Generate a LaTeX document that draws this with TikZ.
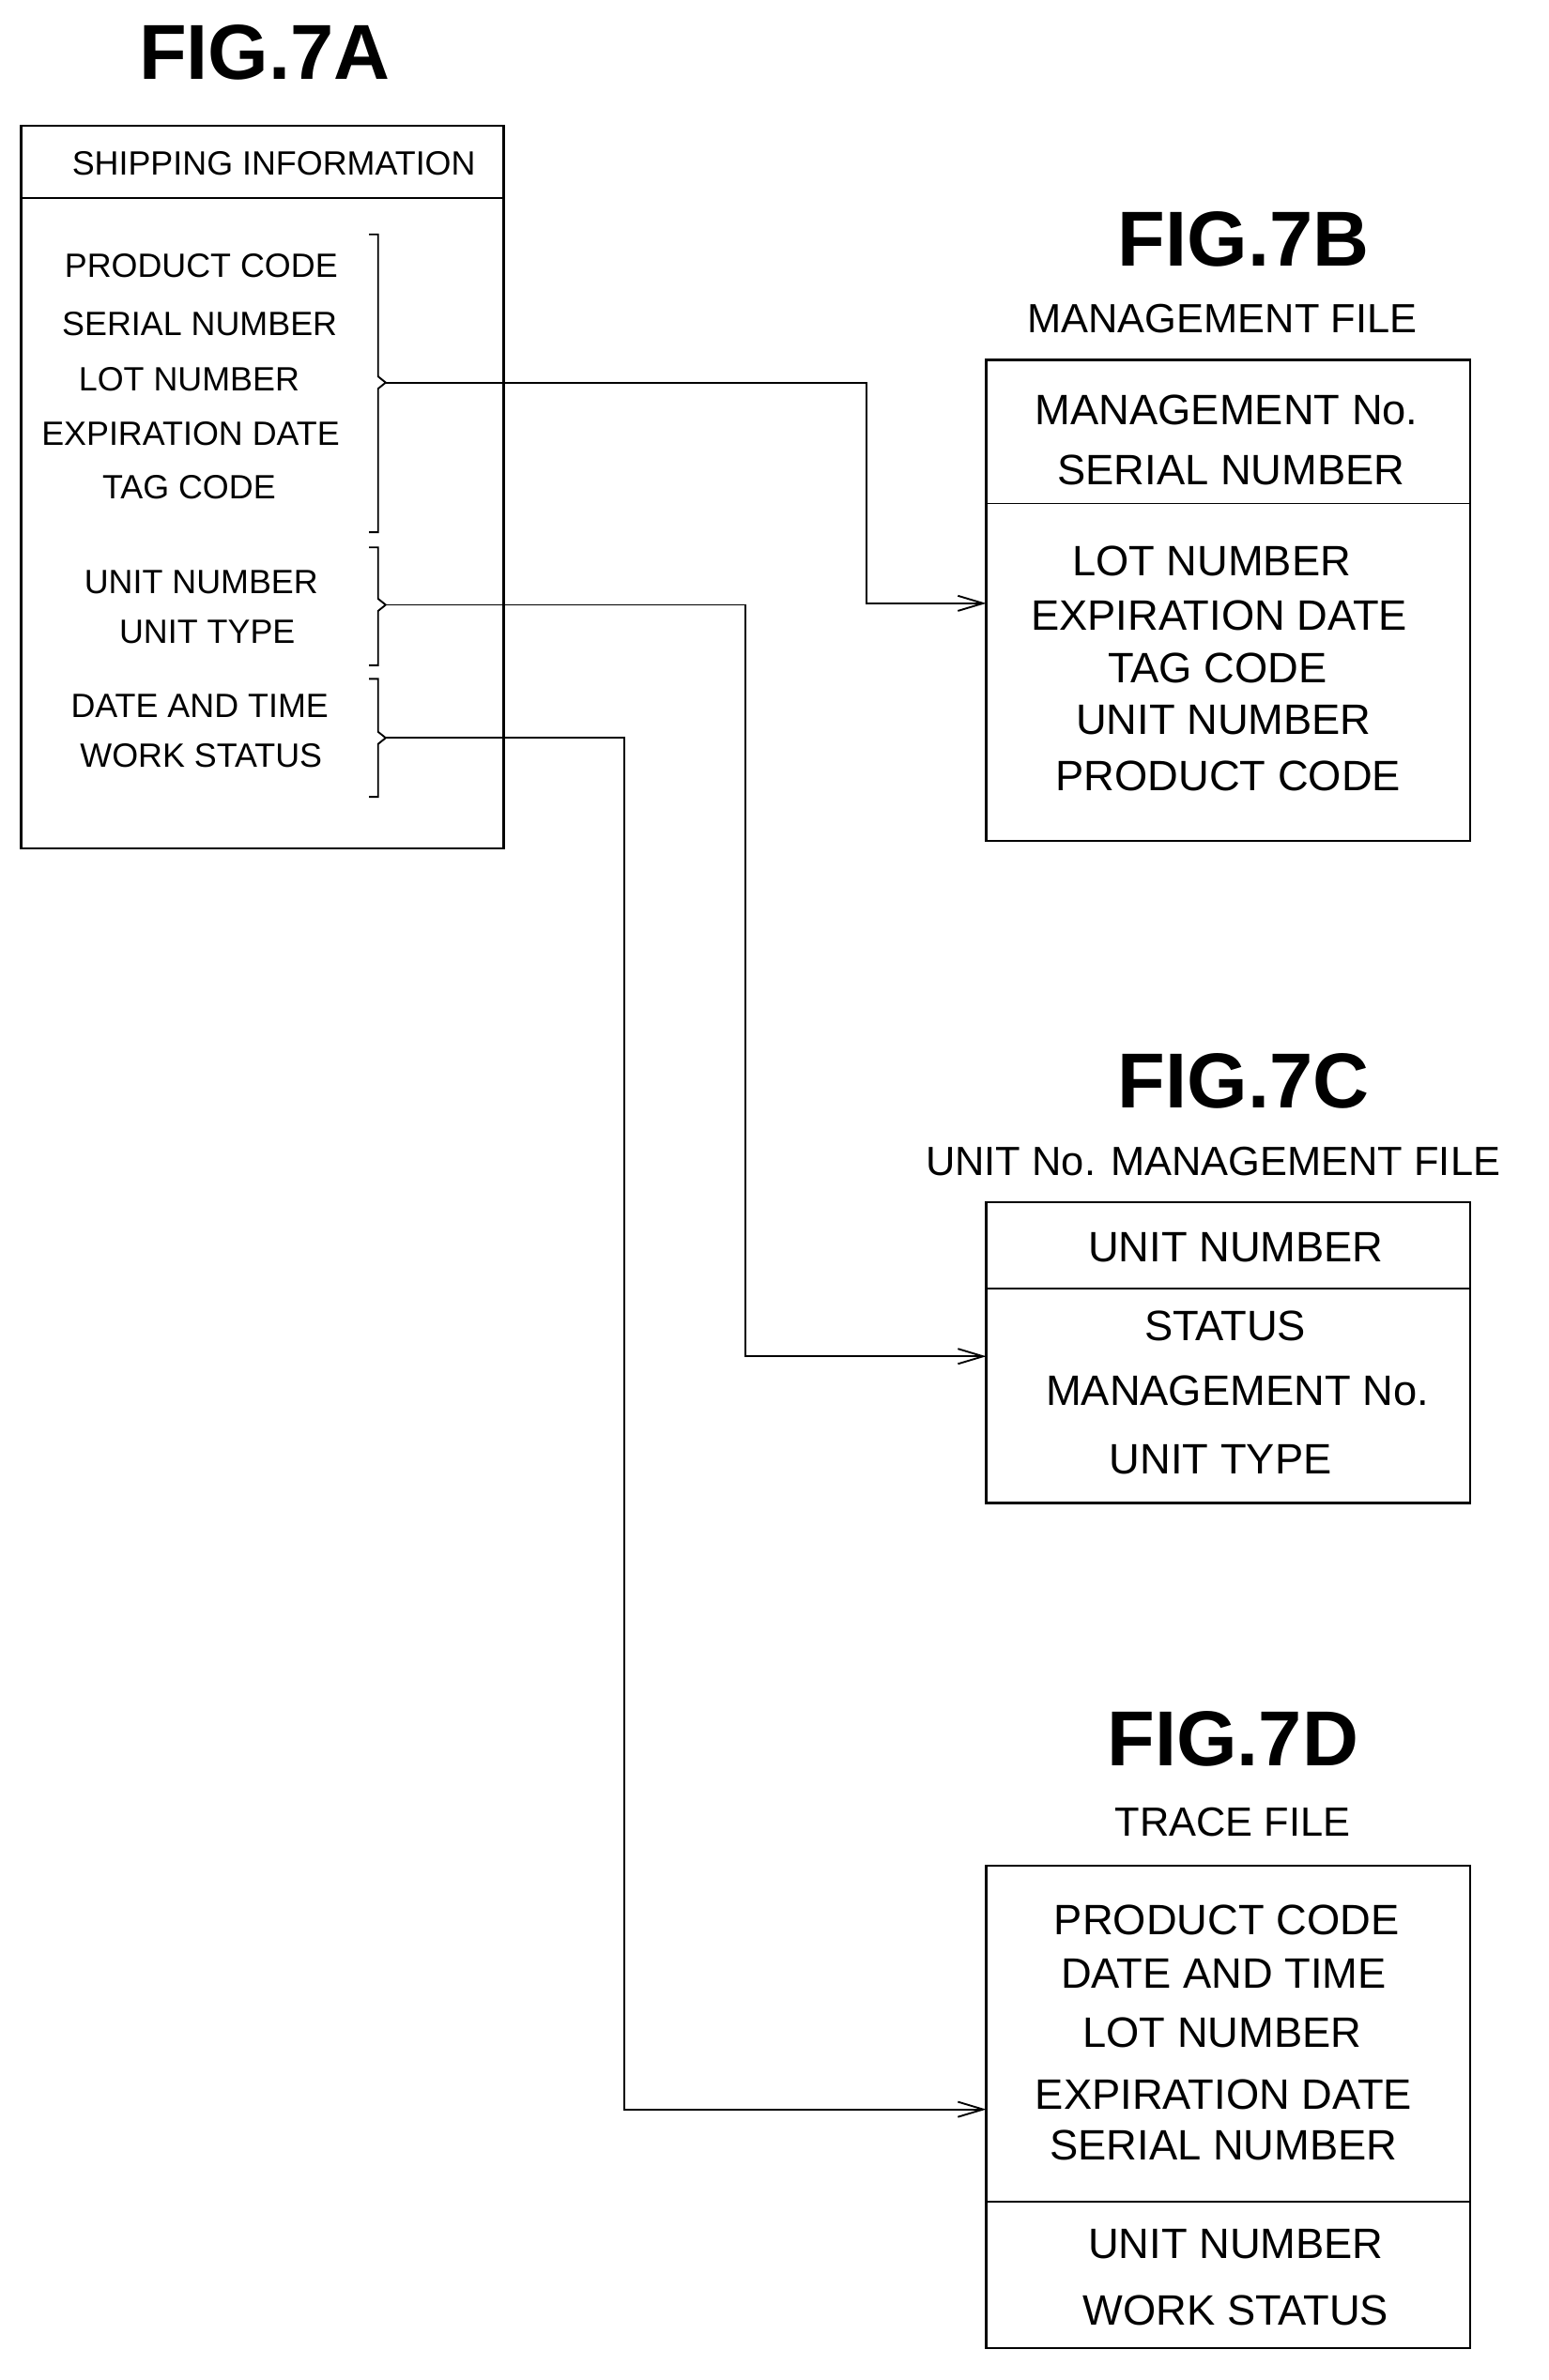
\documentclass[tikz,border=0pt]{standalone}
\usepackage{fontspec}
\setmainfont{Liberation Sans}
\usetikzlibrary{arrows.meta}
\begin{document}
\begin{tikzpicture}[x=0.03cm,y=-0.03cm]
  \tikzstyle{every node}=[inner sep=0pt]
  \tikzstyle{title}=[font=\fontsize{44}{44}\selectfont\bfseries]
  \tikzstyle{sub}=[font=\fontsize{23}{23}\selectfont]
  \tikzstyle{small}=[font=\fontsize{19}{19}\selectfont]
  \tikzstyle{item}=[font=\fontsize{24}{24}\selectfont]
  \tikzstyle{box}=[draw,line width=1.2pt]
  \tikzstyle{link}=[line width=1pt,-{Straight Barb[length=5mm,width=3mm]}]
  \useasboundingbox (0,0) rectangle (1024,1574);
  % FIG.7A
  \node[title] (ta) at (175,35) {FIG.7A};
  \draw[box] (14,83) rectangle (333,561);
  \draw[line width=1pt] (14,131) -- (333,131);
  \node[small] (ship) at (181,108) {SHIPPING INFORMATION};
  \node[small] (a1) at (133,176) {PRODUCT CODE};
  \node[small] (a2) at (132,214) {SERIAL NUMBER};
  \node[small] (a3) at (125,251) {LOT NUMBER};
  \node[small] (a4) at (126,287) {EXPIRATION DATE};
  \node[small] (a5) at (125,322) {TAG CODE};
  \node[small] (a6) at (133,385) {UNIT NUMBER};
  \node[small] (a7) at (137,418) {UNIT TYPE};
  \node[small] (a8) at (132,467) {DATE AND TIME};
  \node[small] (a9) at (133,500) {WORK STATUS};
  % brackets
  \draw[line width=1pt] (244,155) -- (250,155) -- (250,249) -- (255,253) -- (250,257) -- (250,352) -- (244,352);
  \draw[line width=1pt] (244,362) -- (250,362) -- (250,396) -- (255,400) -- (250,404) -- (250,440) -- (244,440);
  \draw[line width=1pt] (244,449) -- (250,449) -- (250,484) -- (255,488) -- (250,492) -- (250,527) -- (244,527);
  \coordinate (b1) at (255,253);
  \coordinate (b2) at (255,400);
  \coordinate (b3) at (255,488);
  % FIG.7B
  \node[title] (tb) at (822,158) {FIG.7B};
  \node[sub] (nb) at (808,211) {MANAGEMENT FILE};
  \draw[box] (652,238) rectangle (972,556);
  \draw[line width=1pt] (652,333) -- (972,333);
  \coordinate (inb) at (652,399);
  \node[item] at (811,271) {MANAGEMENT No.};
  \node[item] at (814,311) {SERIAL NUMBER};
  \node[item] at (801,371) {LOT NUMBER};
  \node[item] at (806,407) {EXPIRATION DATE};
  \node[item] at (805,442) {TAG CODE};
  \node[item] at (809,476) {UNIT NUMBER};
  \node[item] at (812,513) {PRODUCT CODE};
  % FIG.7C
  \node[title] (tc) at (822,715) {FIG.7C};
  \node[sub] (nc) at (802,768) {UNIT No. MANAGEMENT FILE};
  \draw[box] (652,795) rectangle (972,994);
  \draw[line width=1pt] (652,852) -- (972,852);
  \coordinate (inc) at (652,897);
  \node[item] at (817,825) {UNIT NUMBER};
  \node[item] at (810,877) {STATUS};
  \node[item] at (818,920) {MANAGEMENT No.};
  \node[item] at (807,965) {UNIT TYPE};
  % FIG.7D
  \node[title] (td) at (815,1150) {FIG.7D};
  \node[sub] (nd) at (815,1205) {TRACE FILE};
  \draw[box] (652,1234) rectangle (972,1553);
  \draw[line width=1pt] (652,1456) -- (972,1456);
  \coordinate (ind) at (652,1395);
  \node[item] at (811,1270) {PRODUCT CODE};
  \node[item] at (809,1305) {DATE AND TIME};
  \node[item] at (808,1344) {LOT NUMBER};
  \node[item] at (809,1385) {EXPIRATION DATE};
  \node[item] at (809,1419) {SERIAL NUMBER};
  \node[item] at (817,1484) {UNIT NUMBER};
  \node[item] at (817,1528) {WORK STATUS};
  % connectors
  \draw[link] (b1) -- (573,253) |- (inb);
  \draw[link] (b2) -- (493,400) |- (inc);
  \draw[link] (b3) -- (413,488) |- (ind);
\end{tikzpicture}
\end{document}
